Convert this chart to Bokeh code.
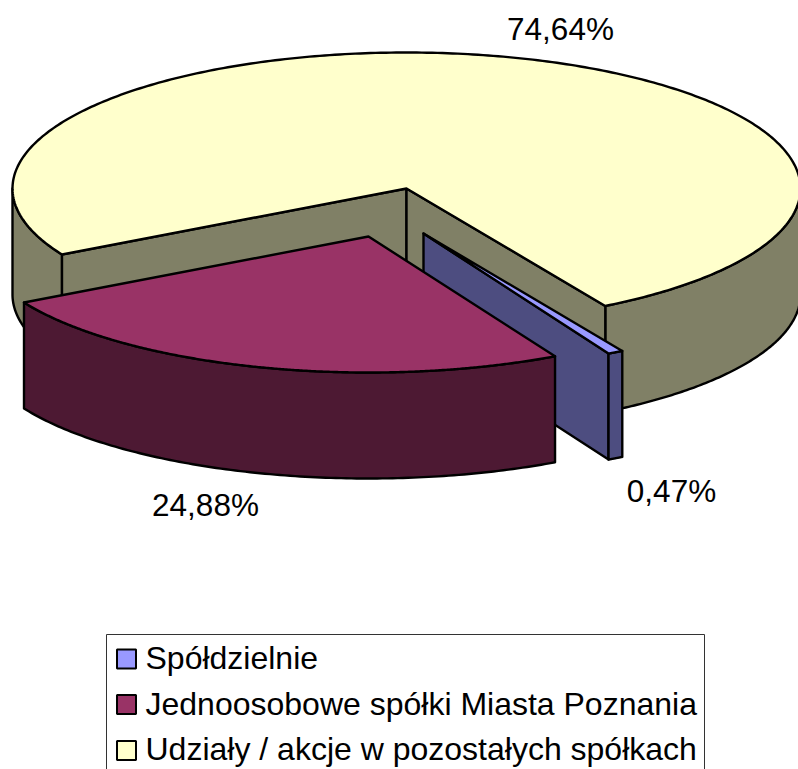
import numpy as np
from bokeh.plotting import figure
from bokeh.models import Range1d
from bokeh.core.properties import value
from bokeh.embed import file_html
from bokeh.resources import INLINE

categories = ["Spółdzielnie", "Jednoosobowe spółki Miasta Poznania", "Udziały / akcje w pozostałych spółkach"]
shares = [0.47, 24.88, 74.64]
share_labels = ["0,47%", "24,88%", "74,64%"]
top_colors = ["#9999FF", "#993366", "#FFFFCC"]
side_colors = ["#4D4D80", "#4D1933", "#808066"]

# Projection of the tilted pie (pixel canvas with a flipped y axis)
CX, CY, RX, RY, DEPTH = 406.0, 188.0, 394.0, 136.0, 106.0
START_DEG = 59.7
EXPLODE = [(17.0, 45.0), (-38.0, 48.0), (0.0, 0.0)]
# Small per-slice corrections of the drawn sweep (degrees), from the foreshortening of the exploded slices
TRIM = [(0.0, 0.6), (0.35, 0.0), (0.0, 0.0)]
LW = 2.4
FONT = value("Liberation Sans")

p = figure(width=798, height=769, output_backend="svg", toolbar_location=None,
           x_range=Range1d(0, 798), y_range=Range1d(769, 0),
           min_border=0, outline_line_color=None)
p.xaxis.visible = False
p.yaxis.visible = False
p.grid.visible = False

fr = np.array(shares) / sum(shares)
a0 = START_DEG + np.concatenate([[0], np.cumsum(fr)[:-1]]) * 360 + np.array([t[0] for t in TRIM])
a1 = START_DEG + np.cumsum(fr) * 360 + np.array([t[1] for t in TRIM])


def arc(i, t0, t1, n=120):
    t = np.radians(np.linspace(t0, t1, n))
    dx, dy = EXPLODE[i]
    return CX + dx + RX * np.cos(t), CY + dy + RY * np.sin(t)


def poly(xs, ys, fill):
    p.patch(list(xs), list(ys), fill_color=fill, line_color="black", line_width=LW, line_join="round")


def radial_wall(i, t):
    dx, dy = EXPLODE[i]
    ax, ay = CX + dx, CY + dy
    ex, ey = arc(i, t, t, 1)
    poly([ax, ex[0], ex[0], ax], [ay, ey[0], ey[0] + DEPTH, ay + DEPTH], side_colors[i])


def outer_wall(i, t0, t1):
    x, y = arc(i, t0, t1)
    poly(np.r_[x, x[::-1]], np.r_[y, y[::-1] + DEPTH], side_colors[i])


def top(i):
    dx, dy = EXPLODE[i]
    x, y = arc(i, a0[i], a1[i], 360)
    poly(np.r_[CX + dx, x], np.r_[CY + dy, y], top_colors[i])


# Large slice: outer rim (front parts), the two inner walls, the top
outer_wall(2, 360, a1[2])
outer_wall(2, a0[2], 180)
radial_wall(2, a0[2])
radial_wall(2, a1[2])
top(2)

# Thin slice
radial_wall(0, a1[0])
outer_wall(0, a0[0], a1[0])
top(0)

# Middle slice
outer_wall(1, a0[1], a1[1])
top(1)

# Value labels
label_x = [671, 205, 560]
label_y = [490, 504, 28]
p.text(label_x, label_y, text=share_labels, text_font=FONT, text_font_size="31.5px",
       text_align="center", text_baseline="middle", text_color="black")

# Legend (its lower edge lies below the visible area)
p.patch([106, 704, 704, 106], [634, 634, 790, 790], fill_color="white", line_color="#333333", line_width=1)
key_y = [658.5, 704, 750]
text_y = [657, 703, 748]
p.rect([126] * 3, key_y, width=19, height=19, fill_color=top_colors, line_color="black", line_width=2)
p.text([145] * 3, text_y, text=categories, text_font=FONT, text_font_size="32px",
       text_align="left", text_baseline="middle", text_color="black")

open("out.html", "w").write(file_html(p, INLINE))
